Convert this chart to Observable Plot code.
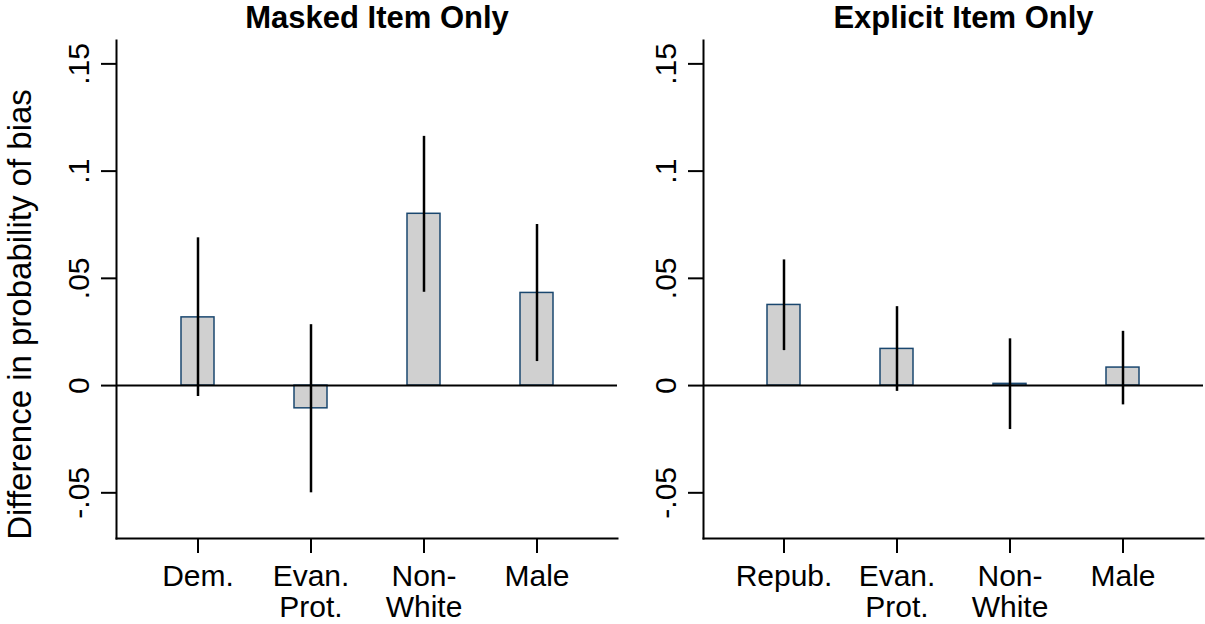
<!DOCTYPE html>
<html><head><meta charset="utf-8">
<script src="https://cdn.jsdelivr.net/npm/d3@7"></script>
<script src="https://cdn.jsdelivr.net/npm/@observablehq/plot@0.6"></script>
<style>
body{margin:0;background:#fff;}
#wrap{position:relative;width:1205px;height:624px;overflow:hidden;background:#fff;}
#wrap svg{position:absolute;top:0;}
</style></head><body><div id="wrap"></div>
<script>
// Panel 1: Masked item only
const maskedTitle = "Masked Item Only";
const maskedCategories = ["Dem.", "Evan. Prot.", "Non-White", "Male"];
const maskedTickLabels = ["Dem.", "Evan.\nProt.", "Non-\nWhite", "Male"];
const maskedEstimates = [0.0318, -0.0106, 0.0801, 0.0432];
const maskedLower = [-0.0051, -0.0500, 0.0435, 0.0112];
const maskedUpper = [0.0689, 0.0284, 0.1162, 0.0751];

// Panel 2: Explicit item only
const explicitTitle = "Explicit Item Only";
const explicitCategories = ["Repub.", "Evan. Prot.", "Non-White", "Male"];
const explicitTickLabels = ["Repub.", "Evan.\nProt.", "Non-\nWhite", "Male"];
const explicitEstimates = [0.0376, 0.0171, 0.0008, 0.0084];
const explicitLower = [0.0163, -0.0027, -0.0205, -0.0090];
const explicitUpper = [0.0586, 0.0368, 0.0218, 0.0253];

const yTicks = [-0.05, 0, 0.05, 0.1, 0.15];
const yTickLabels = ["-.05", "0", ".05", ".1", ".15"];
const yDomain = [-0.0713, 0.1609];
const yAxisTitle = "Difference in probability of bias";

const FONT = "'Liberation Sans', Arial, Helvetica, sans-serif";

function panel({title, cats, labels, est, lo, hi, width, marginLeft, marginRight, yLabel, left}) {
  const rows = cats.map((c, i) => ({cat: c, label: labels[i], est: est[i], lo: lo[i], hi: hi[i]}));
  const marks = [
    Plot.barY(rows, {x: "cat", y: "est", fill: "#d0d0d0", stroke: "#1a476f", strokeWidth: 1.5}),
    Plot.ruleY([0], {stroke: "black", strokeWidth: 2}),
    Plot.ruleX(rows, {x: "cat", y1: "lo", y2: "hi", stroke: "black", strokeWidth: 2.5}),
    Plot.frame({anchor: "left", stroke: "black", strokeWidth: 2}),
    Plot.frame({anchor: "bottom", stroke: "black", strokeWidth: 2}),
    Plot.axisY({ticks: yTicks, tickSize: 15, tickFormat: () => "", label: null, stroke: "black", strokeWidth: 2}),
    Plot.axisX({tickSize: 15, tickFormat: () => "", label: null, stroke: "black", strokeWidth: 2}),
    Plot.text(yTicks, {y: d => d, text: (d, i) => yTickLabels[i], frameAnchor: "left", dx: -37, rotate: -90,
      textAnchor: "middle", lineAnchor: "middle", fontSize: 30, fill: "black"}),
    Plot.text(rows, {x: "cat", text: "label", frameAnchor: "bottom", lineAnchor: "top", dy: 26,
      fontSize: 30, lineHeight: 1.02, fill: "black"}),
    Plot.text([title], {text: d => d, frameAnchor: "top", lineAnchor: "bottom", dy: -13, dx: 10,
      fontSize: 31, fontWeight: "bold", fill: "black"})
  ];
  if (yLabel) {
    marks.push(Plot.text([yLabel], {text: d => d, frameAnchor: "left", dx: -96, dy: 25, rotate: -90,
      textAnchor: "middle", lineAnchor: "middle", fontSize: 33, fill: "black"}));
  }
  const svg = Plot.plot({
    width, height: 624, marginTop: 40, marginBottom: 86, marginLeft, marginRight,
    style: {background: "transparent", fontFamily: FONT, overflow: "visible"},
    x: {type: "band", domain: cats, paddingInner: 0.708, paddingOuter: 0.566},
    y: {domain: yDomain},
    marks
  });
  svg.style.left = left + "px";
  return svg;
}

const wrap = document.getElementById("wrap");
wrap.appendChild(panel({title: maskedTitle, cats: maskedCategories, labels: maskedTickLabels,
  est: maskedEstimates, lo: maskedLower, hi: maskedUpper, width: 620, marginLeft: 116, marginRight: 3,
  yLabel: yAxisTitle, left: 0}));
wrap.appendChild(panel({title: explicitTitle, cats: explicitCategories, labels: explicitTickLabels,
  est: explicitEstimates, lo: explicitLower, hi: explicitUpper, width: 605, marginLeft: 103, marginRight: 2,
  yLabel: null, left: 600}));
</script></body></html>
